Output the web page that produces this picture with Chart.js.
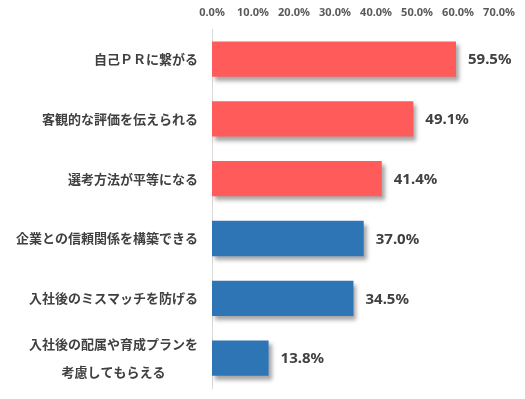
<!DOCTYPE html>
<html>
<head>
<meta charset="utf-8">
<script src="https://cdn.jsdelivr.net/npm/chart.js@4/dist/chart.umd.min.js"></script>
<style>
  html,body{margin:0;padding:0;background:#fff;}
  #wrap{width:525px;height:399px;}
</style>
</head>
<body>
<div id="wrap"><canvas id="chart"></canvas></div>
<script>
// ===== Data =====
const labels = [
  ["自己ＰＲに繋がる"],
  ["客観的な評価を伝えられる"],
  ["選考方法が平等になる"],
  ["企業との信頼関係を構築できる"],
  ["入社後のミスマッチを防げる"],
  ["入社後の配属や育成プランを", "考慮してもらえる"]
];
const values = [59.5, 49.1, 41.4, 37.0, 34.5, 13.8];
const barColors = ["#FF5B5B", "#FF5B5B", "#FF5B5B", "#2E75B6", "#2E75B6", "#2E75B6"];
const xTicks = [0, 10, 20, 30, 40, 50, 60, 70];

const CJK = "'Noto Sans CJK JP', 'Noto Sans', sans-serif";

// ===== Shadow under bars =====
const shadowPlugin = {
  id: "barShadow",
  beforeDatasetDraw(chart){
    const ctx = chart.ctx;
    ctx.save();
    ctx.shadowColor = "rgba(0,0,0,0.35)";
    ctx.shadowOffsetX = 3;
    ctx.shadowOffsetY = 4;
    ctx.shadowBlur = 4;
  },
  afterDatasetDraw(chart){ chart.ctx.restore(); }
};

// ===== Value labels + category labels =====
const labelPlugin = {
  id: "labels",
  afterDatasetsDraw(chart){
    const ctx = chart.ctx;
    const yScale = chart.scales.y;
    ctx.save();
    // values
    ctx.font = "bold 15px 'Noto Sans', sans-serif";
    ctx.fillStyle = "#404040";
    ctx.textAlign = "left";
    ctx.textBaseline = "middle";
    chart.getDatasetMeta(0).data.forEach((bar,i)=>{
      ctx.fillText(values[i].toFixed(1) + "%", bar.x + 12, bar.y + 1);
    });
    // categories, lines centred in block, block right aligned
    ctx.font = "bold 13px " + CJK;
    ctx.fillStyle = "#404040";
    ctx.textAlign = "center";
    const right = chart.chartArea.left - 14;
    const lineH = 28;
    labels.forEach((lines,i)=>{
      const y = yScale.getPixelForValue(i);
      const w = Math.max(...lines.map(l=>ctx.measureText(l).width));
      const cx = right - w/2;
      const y0 = y - (lines.length-1)*lineH/2;
      lines.forEach((l,j)=> ctx.fillText(l, cx, y0 + j*lineH));
    });
    ctx.restore();
  }
};

new Chart(document.getElementById("chart"), {
  type: "bar",
  data: {
    labels: labels,
    datasets: [{
      data: values,
      backgroundColor: barColors,
      borderWidth: 0,
      barPercentage: 0.59,
      categoryPercentage: 1
    }]
  },
  options: {
    indexAxis: "y",
    responsive: true,
    maintainAspectRatio: false,
    animation: false,
    layout: { padding: { top: -4, right: 12, bottom: 11, left: 0 } },
    plugins: { legend: { display: false }, tooltip: { enabled: false } },
    scales: {
      x: {
        position: "top",
        min: 0, max: 70,
        afterBuildTicks(scale){ scale.ticks = xTicks.map(v=>({value:v})); },
        grid: { display: false, drawTicks: false },
        border: { display: false },
        ticks: {
          padding: 10,
          color: "#595959",
          font: { family: "'Noto Sans', sans-serif", size: 11, weight: "bold" },
          callback: v => Number(v).toFixed(1) + "%"
        }
      },
      y: {
        grid: { display: false, drawTicks: false },
        border: { display: true, color: "#D9D9D9", width: 1 },
        ticks: { display: false },
        afterFit(scale){ scale.width = 212; }
      }
    }
  },
  plugins: [shadowPlugin, labelPlugin]
});
</script>
</body>
</html>
